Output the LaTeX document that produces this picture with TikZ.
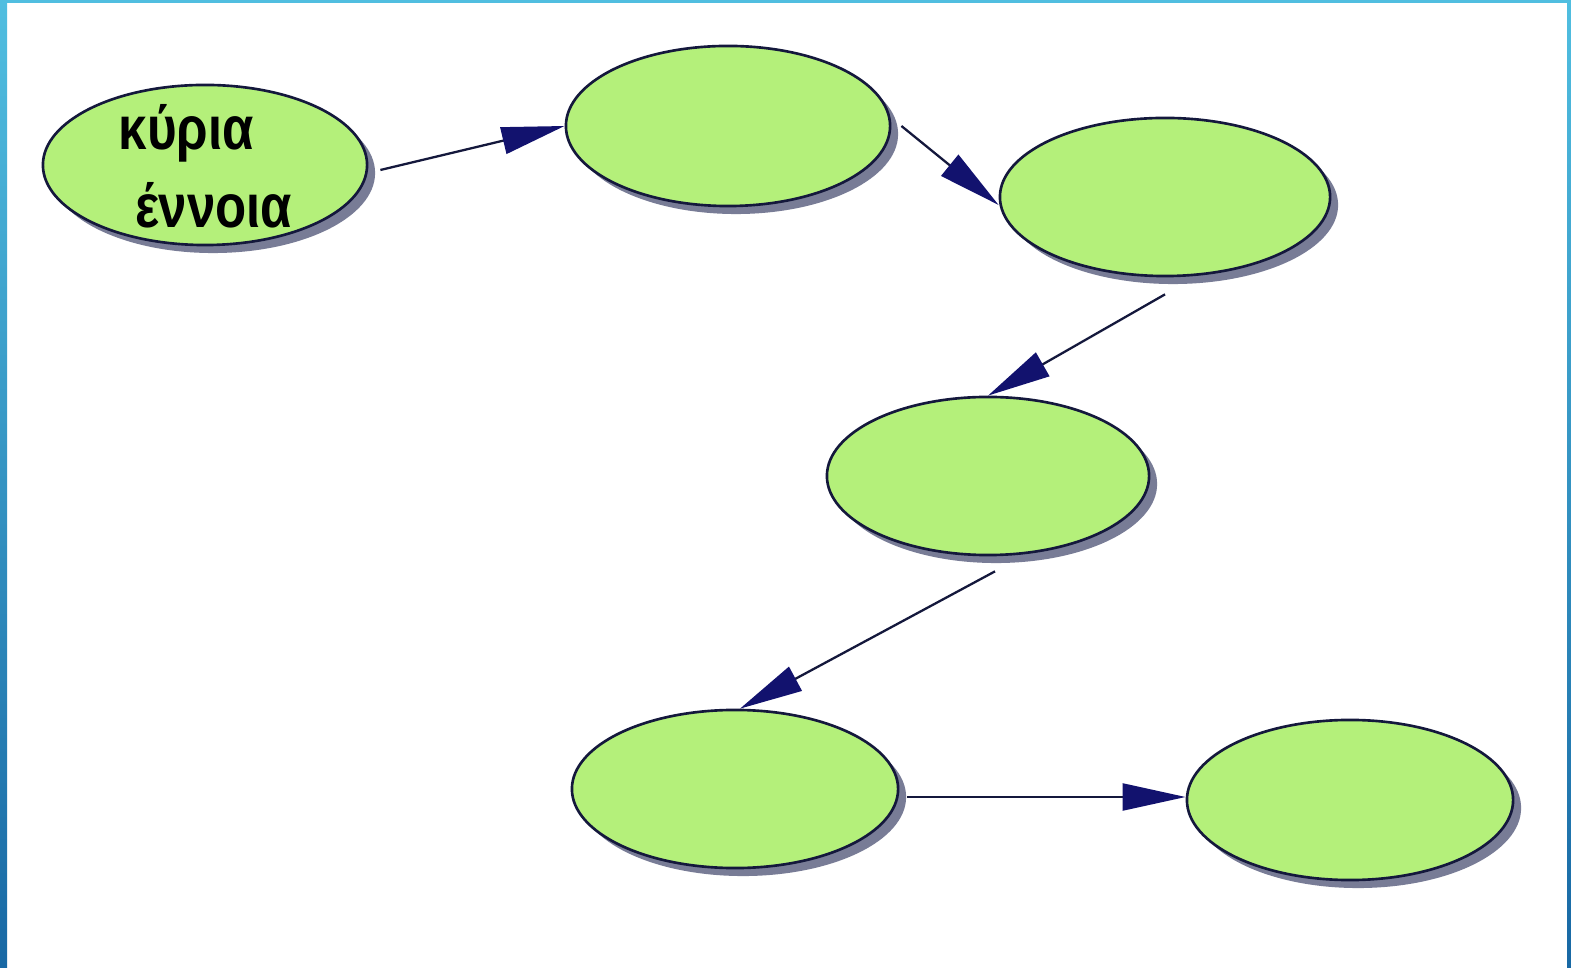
\documentclass[tikz,border=0pt]{standalone}
\usepackage{fontspec}
\newfontfamily\lblfont{Liberation Sans}
\usetikzlibrary{arrows.meta,shadows,shapes.geometric}
\definecolor{nodefill}{RGB}{180,240,122}
\definecolor{nodeline}{RGB}{20,24,60}
\definecolor{shadowc}{RGB}{120,124,150}
\definecolor{arrowc}{RGB}{18,18,110}
\definecolor{bartop}{RGB}{80,190,224}
\definecolor{barbot}{RGB}{24,104,164}
\tikzset{
  concept/.style={ellipse, draw=nodeline, line width=0.75pt, fill=nodefill,
    minimum width=3.24cm, minimum height=1.6cm, inner sep=0pt,
    drop shadow={shadow xshift=0.08cm, shadow yshift=-0.08cm, fill=shadowc, opacity=1}},
  link/.style={draw=nodeline, line width=0.65pt,
    -{Triangle[length=0.63cm, width=0.27cm, fill=arrowc, color=arrowc]}},
  lbl/.style={anchor=base west, inner sep=0pt, font=\lblfont\bfseries\fontsize{14.5}{16}\selectfont}
}
\begin{document}
\begin{tikzpicture}[x=0.01cm,y=-0.01cm]
\useasboundingbox (0,0) rectangle (1571,968);
\fill[white] (0,0) rectangle (1571,968);
% frame bars
\shade[top color=bartop, bottom color=barbot] (0,0) rectangle (7,968);
\shade[top color=bartop, bottom color=barbot] (1567,0) rectangle (1571,968);
\fill[bartop] (0,0) rectangle (1571,3);
% concepts
\node[concept] (n1) at (205,165) {};
\node[concept] (n2) at (728,126) {};
\node[concept, minimum width=3.3cm, minimum height=1.58cm] (n3) at (1165,197) {};
\node[concept, minimum width=3.22cm, minimum height=1.58cm] (n4) at (988,476) {};
\node[concept, minimum width=3.26cm, minimum height=1.58cm] (n5) at (735,789) {};
\node[concept, minimum width=3.26cm] (n6) at (1350,800) {};
% label
\node[lbl] (t1) at (118,150) {\scalebox{1}[1.2]{κύρια}};
\node[lbl] (t2) at (135,228) {\scalebox{1}[1.2]{έννοια}};
% links
\draw[link] ([shift={(12,5)}]n1.east) -- (n2.west);
\draw[link] ([shift={(10,0)}]n2.east) -- ([shift={(0,8)}]n3.west);
\draw[link] ([shift={(0,17)}]n3.south) -- (n4.north);
\draw[link] ([shift={(7,15)}]n4.south) -- ([shift={(5,0)}]n5.north);
\draw[link] ([shift={(8,8)}]n5.east) -- ([shift={(0,-3)}]n6.west);
\end{tikzpicture}
\end{document}
